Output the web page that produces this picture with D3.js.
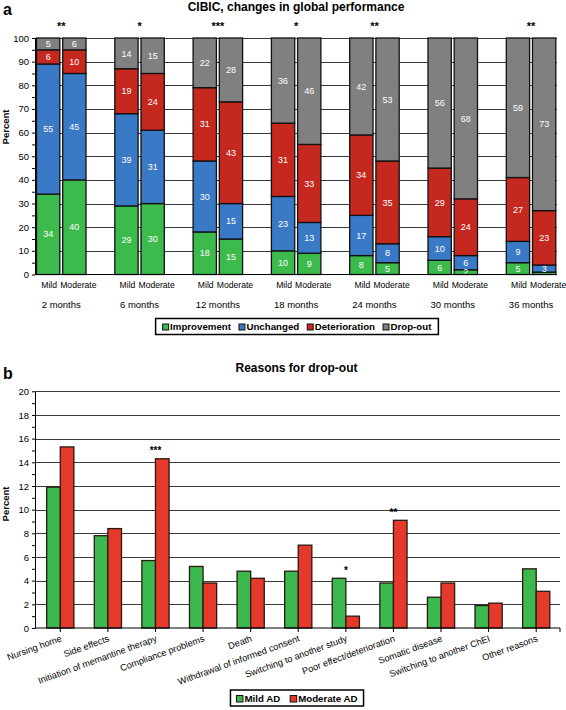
<!DOCTYPE html>
<html><head><meta charset="utf-8">
<script src="https://cdn.jsdelivr.net/npm/d3@7"></script>
<style>body{margin:0;background:#fff;} text{font-family:"Liberation Sans",Arial,sans-serif;}</style>
</head><body><svg id="c" width="566" height="710"></svg>
<script>
// ---------- Panel a data ----------
const timepoints = ["2 months","6 months","12 months","18 months","24 months","30 months","36 months"];
const severities = ["Mild","Moderate"];
const outcomes = ["Improvement","Unchanged","Deterioration","Drop-out"];
const improvementMild       = [34,29,18,10, 8, 6, 5];
const improvementModerate   = [40,30,15, 9, 5, 2, 1];
const unchangedMild         = [55,39,30,23,17,10, 9];
const unchangedModerate     = [45,31,15,13, 8, 6, 3];
const deteriorationMild     = [ 6,19,31,31,34,29,27];
const deteriorationModerate = [10,24,43,33,35,24,23];
const dropoutMild           = [ 5,14,22,36,42,56,59];
const dropoutModerate       = [ 6,15,28,46,53,68,73];
const significanceA = ["**","*","***","*","**","","**"];
const percentTicksA = [0,10,20,30,40,50,60,70,80,90,100];

// ---------- Panel b data ----------
const reasons = ["Nursing home","Side effects","Initiation of memantine therapy","Compliance problems","Death",
  "Withdrawal of informed consent","Switching to another study","Poor effect/deterioration","Somatic disease",
  "Switching to another ChEI","Other reasons"];
const groupsB = ["Mild AD","Moderate AD"];
const mildAD     = [11.9,7.8,5.7,5.2,4.8,4.8,4.2,3.8,2.6,1.9,5.0];
const moderateAD = [15.3,8.4,14.3,3.8,4.2,7.0,1.0,9.1,3.8,2.1,3.1];
const significanceB = ["","","***","","","","*","**","","",""];
const percentTicksB = [0,2,4,6,8,10,12,14,16,18,20];

const colA = {"Improvement":"#3dba4c","Unchanged":"#3a79c6","Deterioration":"#c4281f","Drop-out":"#808080"};
const colB = {"Mild AD":"#3cb94e","Moderate AD":"#e5392b"};

const svg = d3.select("#c");
const F = '"Liberation Sans",Arial,sans-serif';

// ================= Panel a =================
const seriesA = {
  "Mild": {"Improvement":improvementMild,"Unchanged":unchangedMild,"Deterioration":deteriorationMild,"Drop-out":dropoutMild},
  "Moderate": {"Improvement":improvementModerate,"Unchanged":unchangedModerate,"Deterioration":deteriorationModerate,"Drop-out":dropoutModerate}
};
const aLeft = 35, aRight = 557, aTop = 38, aBottom = 274.5;
const yA = d3.scaleLinear().domain([0,100]).range([aBottom,aTop]).clamp(true);
const groupStep = (aRight - aLeft) / (20/3);
const xG = d3.scaleBand().domain(timepoints).range([aLeft, aLeft + groupStep*7]).padding(0);
const xS = d3.scaleBand().domain(severities).range([1.5, 51]).paddingInner(0.11).paddingOuter(0);

svg.append("text").attr("x",3).attr("y",15).attr("font-size",16).attr("font-weight","bold").text("a");
svg.append("text").attr("x",296).attr("y",10.5).attr("text-anchor","middle").attr("font-size",12)
  .attr("font-weight","bold").text("CIBIC, changes in global performance");

const gA = svg.append("g");
gA.selectAll("line.grid").data(percentTicksA.filter(d=>d>0)).join("line")
  .attr("x1",aLeft).attr("x2",aRight).attr("y1",d=>Math.round(yA(d))+0.5).attr("y2",d=>Math.round(yA(d))+0.5)
  .attr("stroke","#3a3a3a").attr("stroke-width",1);

const barData = [];
timepoints.forEach((t,i)=>{
  severities.forEach(s=>{
    let cum = 0;
    outcomes.forEach(o=>{
      const v = seriesA[s][o][i];
      barData.push({t,s,o,v,y0:cum,y1:cum+v});
      cum += v;
    });
  });
});
gA.selectAll("rect.bar").data(barData).join("rect")
  .attr("x",d=>xG(d.t)+xS(d.s)).attr("width",xS.bandwidth())
  .attr("y",d=>yA(d.y1)).attr("height",d=>yA(d.y0)-yA(d.y1))
  .attr("fill",d=>colA[d.o]).attr("stroke","#111").attr("stroke-width",1.3);
gA.selectAll("text.val").data(barData).join("text")
  .attr("x",d=>xG(d.t)+xS(d.s)+xS.bandwidth()/2)
  .attr("y",d=>(yA(d.y0)+yA(d.y1))/2 + (d.v<=1 ? 2.5 : 0))
  .attr("dy","0.35em").attr("text-anchor","middle").attr("font-size",d=>d.v<=1?5.5:9).attr("fill","#fff")
  .text(d=>d.v);

const axA = d3.axisLeft(yA).tickValues(percentTicksA).tickSize(3).tickSizeOuter(0).tickPadding(3);
const axAg = gA.append("g").attr("transform",`translate(${aLeft},0)`).call(axA);
axAg.selectAll("text").attr("font-size",9.5).attr("fill","#000").style("font-family",F);
axAg.select(".domain").attr("stroke","#000");
const minorA = d3.axisLeft(yA).tickValues(d3.range(5,100,10)).tickSize(3).tickFormat("").tickSizeOuter(0);
gA.append("g").attr("transform",`translate(${aLeft},0)`).call(minorA).select(".domain").remove();
gA.append("line").attr("x1",aLeft).attr("x2",aRight).attr("y1",aBottom).attr("y2",aBottom).attr("stroke","#000").attr("stroke-width",1.2);

timepoints.forEach(t=>{
  severities.forEach((s,j)=>{
    gA.append("text").attr("x",xG(t)+xS(s)+xS.bandwidth()/2 + (j===0?1:4)).attr("y",288)
      .attr("text-anchor","middle").attr("font-size",8.6).text(s);
  });
  gA.append("text").attr("x",xG(t)+xS("Mild")+ (xS("Moderate")+xS.bandwidth()-xS("Mild"))/2).attr("y",307.5)
    .attr("text-anchor","middle").attr("font-size",9.5).text(t);
});
gA.selectAll("text.sig").data(timepoints).join("text")
  .attr("x",t=>xG(t)+xS("Mild")+(xS("Moderate")+xS.bandwidth()-xS("Mild"))/2).attr("y",30)
  .attr("text-anchor","middle").attr("font-size",11).attr("font-weight","bold")
  .text((t,i)=>significanceA[i]);
svg.append("text").attr("transform","translate(9,127) rotate(-90)").attr("text-anchor","middle")
  .attr("font-size",9.5).attr("font-weight","bold").text("Percent");

(function(){
  const lg = svg.append("g");
  let x = 0;
  outcomes.forEach(o=>{
    const g = lg.append("g").attr("transform",`translate(${x},0)`);
    g.append("rect").attr("x",0).attr("y",-6).attr("width",6).attr("height",6).attr("fill",colA[o]).attr("stroke","#111").attr("stroke-width",1);
    const tx = g.append("text").attr("x",7.5).attr("y",0).attr("font-size",9.7).attr("font-weight","bold").text(o);
    x += 7.5 + tx.node().getComputedTextLength() + 8;
  });
  const w = x - 8;
  const cx = 297, cy = 330;
  lg.attr("transform",`translate(${cx - w/2},${cy})`);
  svg.insert("rect",":first-child").attr("x",cx - w/2 - 7).attr("y",318.5).attr("width",w+14).attr("height",16)
    .attr("fill","#fff").attr("stroke","#000").attr("stroke-width",1.5);
})();

// ================= Panel b =================
const bLeft = 35, bRight = 560, bTop = 391.3, bBottom = 628;
const yB = d3.scaleLinear().domain([0,20]).range([bBottom,bTop]);
const xB = d3.scaleBand().domain(reasons).range([36.5, bRight]).padding(0);
const xBs = d3.scaleBand().domain(groupsB).range([0, xB.bandwidth()]).paddingInner(0).paddingOuter(0.75);

svg.append("text").attr("x",3).attr("y",379).attr("font-size",16).attr("font-weight","bold").text("b");
svg.append("text").attr("x",296.5).attr("y",372).attr("text-anchor","middle").attr("font-size",12)
  .attr("font-weight","bold").text("Reasons for drop-out");

const gB = svg.append("g");
gB.selectAll("line.grid").data(percentTicksB.filter(d=>d>0)).join("line")
  .attr("x1",bLeft).attr("x2",bRight).attr("y1",d=>Math.round(yB(d))+0.5).attr("y2",d=>Math.round(yB(d))+0.5)
  .attr("stroke","#3a3a3a").attr("stroke-width",1);

const barB = [];
reasons.forEach((r,i)=>{
  barB.push({r,g:"Mild AD",v:mildAD[i]});
  barB.push({r,g:"Moderate AD",v:moderateAD[i]});
});
gB.selectAll("rect.bar").data(barB).join("rect")
  .attr("x",d=>xB(d.r)+xBs(d.g)).attr("width",xBs.bandwidth())
  .attr("y",d=>yB(d.v)).attr("height",d=>yB(0)-yB(d.v))
  .attr("fill",d=>colB[d.g]).attr("stroke","#2a1a10").attr("stroke-width",1.3);

const axB = d3.axisLeft(yB).tickValues(percentTicksB).tickSize(3).tickSizeOuter(0).tickPadding(3);
const axBg = gB.append("g").attr("transform",`translate(${bLeft},0)`).call(axB);
axBg.selectAll("text").attr("font-size",9.5).attr("fill","#000").style("font-family",F);
axBg.select(".domain").attr("stroke","#000");
const minorB = d3.axisLeft(yB).tickValues(d3.range(1,20,2)).tickSize(3).tickFormat("").tickSizeOuter(0);
gB.append("g").attr("transform",`translate(${bLeft},0)`).call(minorB).select(".domain").remove();

const axBx = d3.axisBottom(xB).tickSize(4).tickSizeOuter(4).tickFormat("");
const axBxg = gB.append("g").attr("transform",`translate(0,${bBottom})`).call(axBx);
axBxg.select(".domain").attr("stroke","#000").attr("d",`M${bLeft},0H${bRight}V4`);

gB.selectAll("text.xl").data(reasons).join("text")
  .attr("transform",r=>`translate(${xB(r)+xB.bandwidth()/2+2},${bBottom+13}) rotate(-20)`)
  .attr("text-anchor","end").attr("font-size",9.2).text(r=>r);

gB.selectAll("text.sig").data(reasons).join("text")
  .attr("x",r=>xB(r)+xB.bandwidth()/2)
  .attr("y",(r,i)=>yB(Math.max(mildAD[i],moderateAD[i])) - 4.5)
  .attr("text-anchor","middle").attr("font-size",10).attr("font-weight","bold")
  .text((r,i)=>significanceB[i]);

svg.append("text").attr("transform","translate(9,504) rotate(-90)").attr("text-anchor","middle")
  .attr("font-size",9.5).attr("font-weight","bold").text("Percent");

(function(){
  const lg = svg.append("g");
  let x = 0;
  groupsB.forEach(o=>{
    const g = lg.append("g").attr("transform",`translate(${x},0)`);
    g.append("rect").attr("x",0).attr("y",-6.5).attr("width",6.5).attr("height",6.5).attr("fill",colB[o]).attr("stroke","#111").attr("stroke-width",1);
    const tx = g.append("text").attr("x",8).attr("y",0).attr("font-size",9.7).attr("font-weight","bold").text(o);
    x += 8 + tx.node().getComputedTextLength() + 10;
  });
  const w = x - 10;
  const cx = 297, cy = 702;
  lg.attr("transform",`translate(${cx - w/2},${cy})`);
  svg.insert("rect",":first-child").attr("x",cx - w/2 - 6).attr("y",690).attr("width",w+12).attr("height",16)
    .attr("fill","#fff").attr("stroke","#000").attr("stroke-width",1.5);
})();
</script></body></html>
